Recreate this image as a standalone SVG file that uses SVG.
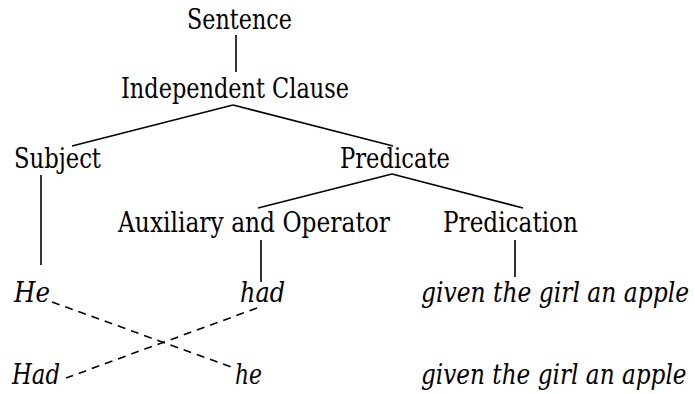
<svg xmlns="http://www.w3.org/2000/svg" width="695" height="394" viewBox="0 0 695 394">
<style>
text{font-family:"DejaVu Serif",serif;fill:#000}
.t{font-size:27px}
.i{font-style:italic;font-size:27px}
.l{stroke:#000;stroke-width:1.6;fill:none}
.d{stroke:#000;stroke-width:1.6;fill:none;stroke-dasharray:8 6}
</style>
<rect width="695" height="394" fill="#fff"/>
<g id="connectors">
<line class="l" x1="236" y1="35" x2="236" y2="72"/>
<line class="l" x1="233" y1="105" x2="72" y2="146"/>
<line class="l" x1="233" y1="105" x2="393" y2="146"/>
<line class="l" x1="392" y1="174" x2="258" y2="208"/>
<line class="l" x1="392" y1="174" x2="523" y2="208"/>
<line class="l" x1="41" y1="175" x2="41" y2="265"/>
<line class="l" x1="261" y1="240" x2="261" y2="282"/>
<line class="l" x1="515" y1="240" x2="515" y2="277"/>
<line class="d" x1="52" y1="302" x2="234" y2="368"/>
<line class="d" x1="257" y1="308" x2="66" y2="378"/>
</g>
<g id="n-sentence"><text class="t" x="187" y="29" textLength="105" lengthAdjust="spacingAndGlyphs">Sentence</text></g>
<g id="n-clause"><text class="t" x="121" y="98" textLength="228" lengthAdjust="spacingAndGlyphs">Independent Clause</text></g>
<g id="n-subject"><text class="t" x="14" y="168" textLength="87" lengthAdjust="spacingAndGlyphs">Subject</text></g>
<g id="n-predicate"><text class="t" x="340" y="168" textLength="110" lengthAdjust="spacingAndGlyphs">Predicate</text></g>
<g id="n-aux"><text class="t" x="118" y="232" textLength="272" lengthAdjust="spacingAndGlyphs">Auxiliary and Operator</text></g>
<g id="n-predication"><text class="t" x="443" y="232" textLength="135" lengthAdjust="spacingAndGlyphs">Predication</text></g>
<g id="n-he1"><text class="i" x="14" y="302" textLength="36" lengthAdjust="spacingAndGlyphs">He</text></g>
<g id="n-had1"><text class="i" x="240" y="302" textLength="45" lengthAdjust="spacingAndGlyphs">had</text></g>
<g id="n-given1"><text class="i" transform="translate(421 302) scale(0.8 1)" x="0" y="0" textLength="335" lengthAdjust="spacingAndGlyphs">given the girl an apple</text></g>
<g id="n-had2"><text class="i" x="12" y="384" textLength="48" lengthAdjust="spacingAndGlyphs">Had</text></g>
<g id="n-he2"><text class="i" x="235" y="384" textLength="27" lengthAdjust="spacingAndGlyphs">he</text></g>
<g id="n-given2"><text class="i" transform="translate(421 384) scale(0.8 1)" x="0" y="0" textLength="332" lengthAdjust="spacingAndGlyphs">given the girl an apple</text></g>
</svg>
